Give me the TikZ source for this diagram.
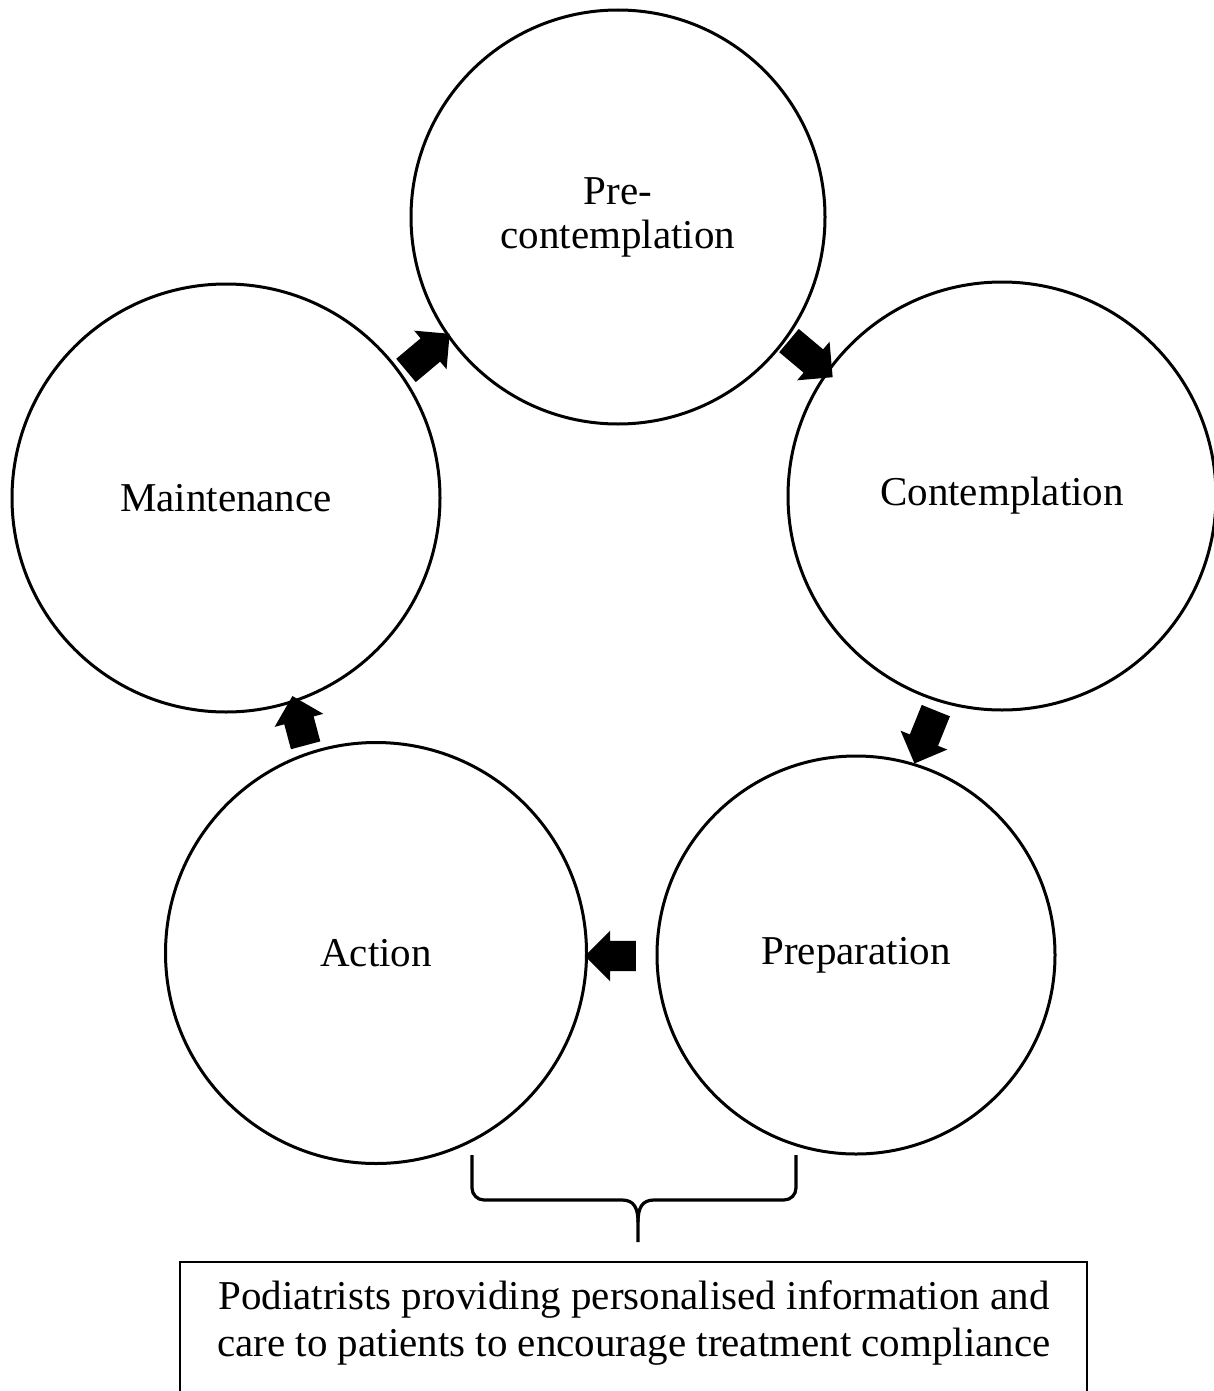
\documentclass[tikz,border=0pt]{standalone}
\usepackage{fontspec}
\setmainfont{Liberation Serif}
\usetikzlibrary{shapes.arrows}
\begin{document}
\begin{tikzpicture}[x=1pt,y=-1pt,
  stage/.style={draw,circle,line width=3pt,inner sep=0pt,align=center,
    font=\fontsize{41}{44}\selectfont},
  blockarrow/.style={single arrow,fill=black,draw=none,inner xsep=0pt,inner ysep=15pt,
    single arrow head extend=10pt,single arrow head indent=0pt,minimum height=57pt},
  infobox/.style={draw,line width=2.6pt}]
\clip (0,0) rectangle (1214,1391);
\fill[white] (0,0) rectangle (1214,1391);
\node[stage,minimum size=414pt] (pre) at (618,217) {Pre-\\contemplation};
\node[stage,minimum size=428pt] (con) at (1002,496) {Contemplation};
\node[stage,minimum size=428pt] (mai) at (226,498) {Maintenance};
\node[stage,minimum size=421pt] (act) at (376,953) {Action};
\node[stage,minimum size=398pt] (pre2) at (856,955) {Preparation};
\node[blockarrow,rotate=40] (m2p) at (422,357) {};
\node[blockarrow,rotate=-40] (p2c) at (805,354) {};
\node[blockarrow,rotate=-112] (c2r) at (928,730) {};
\node[blockarrow,rotate=180,minimum height=51pt] (r2a) at (618,956) {};
\node[blockarrow,rotate=105,minimum height=51pt] (a2m) at (301,728) {};
\coordinate (bl) at (472,1155);
\coordinate (br) at (796,1155);
\coordinate (bt) at (638,1242);
\draw[line width=3.2pt] (bl) -- (472,1186) [rounded corners=12pt] -- (472,1200) -- (560,1200)
  [sharp corners] -- (622,1200) .. controls (634,1200) and (638,1208) .. (638,1222) -- (bt);
\draw[line width=3.2pt] (br) -- (796,1186) [rounded corners=12pt] -- (796,1200) -- (720,1200)
  [sharp corners] -- (654,1200) .. controls (642,1200) and (638,1208) .. (638,1222);
\draw[infobox] (180,1420) -- (180,1262) -- (1087,1262) -- (1087,1420);
\node[font=\fontsize{41}{47}\selectfont,align=center] (info) at (634,1323)
  {Podiatrists providing personalised information and\\care to patients to encourage treatment compliance};
\end{tikzpicture}
\end{document}
